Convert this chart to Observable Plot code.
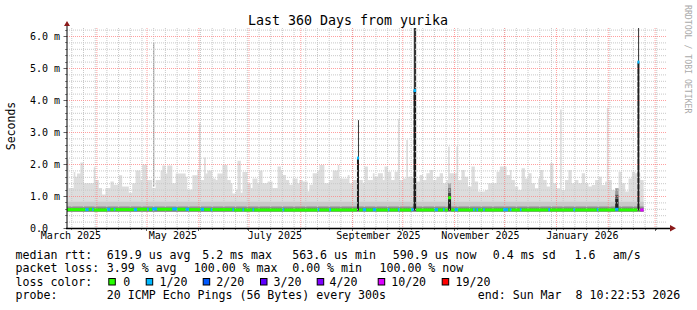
<!DOCTYPE html>
<html><head><meta charset="utf-8">
<script src="https://cdn.jsdelivr.net/npm/d3@7"></script>
<script src="https://cdn.jsdelivr.net/npm/@observablehq/plot@0.6"></script>
<style>
html,body{margin:0;padding:0;background:#fff;}
#chart{width:697px;height:310px;position:relative;overflow:hidden;}
svg text{white-space:pre;}
</style></head><body><div id="chart"></div>
<script>
// ---------- time frame ----------
const startTime = new Date(2025, 2, 14, 10, 22, 53);
const endTime = new Date(2026, 2, 8, 10, 22, 53);
const DAY = 864e5;
const at = d => new Date(startTime.getTime() + d * DAY);

// ---------- smoke envelope (max ping, ms), day offsets from start ----------
const smokeDay = [0,1,4,5,6,8,10,16,17,19,21,23,26,28,31,33,37,39,41,44,45,48,51,53,56,57,59,60,63,65,71,72,75,78,79,80,82,83,84,87,89,90,93,96,98,99,101,102,104,105,108,110,111,114,115,117,120,123,126,128,129,131,133,135,138,139,141,144,145,147,150,151,154,157,159,162,163,168,169,171,177,178,180,183,184,186,189,190,192,194,196,198,199,201,203,204,209,211,213,215,217,219,221,223,225,227,228,229,233,234,236,238,240,242,244,246,250,252,257,259,263,265,266,268,270,272,274,276,278,280,282,283,285,287,289,291,293,295,296,298,300,302,304,306,308,310,312,314,316,318,320,322,323,324,326,328,330,332,334,336,338,340,343,345];
const smokeMax = [2.15,1.25,1.75,1.6,1.7,2.05,1.4,1.9,1.5,1.25,1.05,1.25,1.45,1.35,1.65,1.3,1.1,1.4,1.8,1.5,1.98,1.5,1.25,1.5,1.8,1.95,1.7,1.95,1.4,1.7,1.6,1.2,1.65,1.82,3.27,1.5,2.2,1.7,1.8,1.55,1.5,1.7,1.97,1.5,1.4,1.08,1.2,2.1,1.1,1.75,1.4,1.25,1.55,1.4,1.8,1.4,1.45,1.25,1.92,1.8,1.66,1.5,1.35,1.55,1.4,1.5,1.45,1.15,1.35,1.71,1.8,1.97,1.4,1.5,1.8,1.97,1.55,1.66,1.4,1.5,1.4,1.92,1.5,1.71,1.6,1.71,1.5,1.92,1.76,1.5,1.76,3.4,1.5,1.55,2.75,1.6,1.45,1.66,1.5,1.71,1.81,1.5,1.6,1.71,1.4,1.5,2.55,1.71,2.55,1.5,1.81,1.6,1.3,1.92,1.45,1.14,1.19,1.4,1.76,1.92,1.66,1.81,1.5,1.3,1.19,1.87,1.55,1.71,1.4,1.24,1.55,1.81,1.5,1.3,2.02,1.4,1.24,3.7,1.19,1.5,1.81,1.4,1.5,1.4,1.71,1.4,1.3,1.34,1.5,1.6,1.34,1.45,3.75,1.5,1.19,1.24,1.76,1.4,1.14,1.55,1.76,1.71,1.5,1.5];
const smokeFloor = 0.5;

// inner (denser) smoke bands around the median, ms
const bandLo = [0.50, 0.50, 0.52];
const bandHi = [0.82, 0.68, 0.64];
const bandShade = ["#c9c9c9", "#a2a2a2", "#7c7c7c"];

// outlier days with dense / tall smoke
const spikeFrom = [51.6, 173.5, 174.1, 207.3, 207.5, 228.0, 228.0, 228.0, 228.0, 328.0, 328.0, 328.0, 341.3, 341.7];
const spikeTo   = [52.2, 174.7, 174.7, 208.9, 208.9, 229.8, 229.8, 229.8, 229.8, 330.0, 330.0, 330.0, 342.5, 342.3];
const spikeLo   = [1.3, 0.55, 2.2, 0.55, 4.3, 0.55, 0.95, 1.1, 1.25, 0.55, 0.92, 1.05, 0.55, 5.2];
const spikeHi   = [5.8, 2.2, 3.37, 4.3, 6.25, 0.95, 1.1, 1.25, 1.4, 0.92, 1.05, 1.24, 5.2, 6.25];
const spikeShade = ["#8a8a8a", "#1c1c1c", "#3a3a3a", "#1c1c1c", "#343434", "#222222", "#444444", "#777777", "#aaaaaa", "#222222", "#555555", "#999999", "#1c1c1c", "#343434"];

// median rtt runs (ms) with loss class index
const medianStart = [0,11,13,15,16,24,26,28,29,40,42,48,49,51,54,63,66,71,73,80,82,86,87,99,100,105,106,111,112,129,130,150,151,157,158,173.5,174.7,177,179,183,185,192,193,198,199,206,207.3,208.9,220,222,225,226,228,229.8,232,234,243,244,245,246,249,250,261,264,265,266,271,272,288,289,303,304,317,318,328,330,341.3,342.5,343];
const medianValue = [0.59,0.59,0.60,0.59,0.58,0.60,0.59,0.60,0.59,0.59,0.60,0.60,0.59,0.61,0.60,0.61,0.60,0.60,0.59,0.60,0.59,0.59,0.59,0.59,0.58,0.59,0.58,0.59,0.58,0.59,0.58,0.59,0.58,0.59,0.58,2.2,0.58,0.59,0.58,0.59,0.58,0.59,0.58,0.59,0.58,0.59,4.31,0.58,0.59,0.58,0.59,0.58,0.96,0.58,0.59,0.58,0.59,0.58,0.59,0.58,0.59,0.58,0.59,0.58,0.59,0.58,0.59,0.58,0.59,0.58,0.59,0.58,0.59,0.58,0.60,0.58,5.2,0.58,0.58];
const medianLoss = [0,1,0,1,0,1,0,1,0,1,0,1,0,1,0,1,0,1,0,1,0,1,0,1,0,1,0,1,0,1,0,1,0,1,0,1,0,1,0,1,0,1,0,1,0,1,1,0,1,0,1,0,0,0,1,0,1,0,1,0,1,0,1,0,1,0,1,0,1,0,1,0,1,0,1,0,1,0,5];
const medianEnd = 345;

// legend / loss palette
const lossLabels = ["0", "1/20", "2/20", "3/20", "4/20", "10/20", "19/20"];
const lossColors = ["#26ff00", "#00b8ff", "#0059ff", "#5e00ff", "#7e00ff", "#dd00ff", "#ff0000"];
const statLabels = ["median rtt:", "packet loss:", "loss color:", "probe:"];
const rttStats = ["619.9 us avg", "5.2 ms max", "563.6 us min", "590.9 us now", "0.4 ms sd", "1.6", "am/s"];
const lossStats = ["3.99 % avg", "100.00 % max", "0.00 % min", "100.00 % now"];
const probeText = "20 ICMP Echo Pings (56 Bytes) every 300s";
const endText = "end: Sun Mar  8 10:22:53 2026";
const titleText = "Last 360 Days from yurika";
const yTitle = "Seconds";
const watermark = "RRDTOOL / TOBI OETIKER";

// axis ticks
const yMajor = [0, 1, 2, 3, 4, 5, 6];
const yMinor = [0.2,0.4,0.6,0.8,1.2,1.4,1.6,1.8,2.2,2.4,2.6,2.8,3.2,3.4,3.6,3.8,4.2,4.4,4.6,4.8,5.2,5.4,5.6,5.8,6.2];
const monthLabels = ["March 2025", "May 2025", "July 2025", "September 2025", "November 2025", "January 2026"];
const monthLabelDates = [new Date(2025,2,16,12), new Date(2025,4,16,12), new Date(2025,6,16,12), new Date(2025,8,16,12), new Date(2025,10,16,12), new Date(2026,0,16,12)];

// ---------- build tables ----------
const smoke = smokeDay.map((d, i) => ({date: at(d), max: smokeMax[i]}));
const bands = bandLo.map((lo, i) => ({from: at(smokeDay[0]), to: at(smokeDay[smokeDay.length - 1]), lo, hi: bandHi[i], shade: bandShade[i]}));
const spikes = spikeFrom.map((f, i) => ({from: at(f), to: at(spikeTo[i]), lo: spikeLo[i], hi: spikeHi[i], shade: spikeShade[i]}));
const median = medianStart.map((d, i) => ({from: at(d), to: at(i + 1 < medianStart.length ? medianStart[i + 1] : medianEnd), value: medianValue[i], color: lossColors[medianLoss[i]]}));
const weekTicks = d3.timeMonday.range(startTime, endTime);
const monthStarts = d3.timeMonth.range(startTime, endTime);

const MONO = "'DejaVu Sans Mono', monospace";

const plot = Plot.plot({
  width: 697, height: 310,
  marginLeft: 67, marginRight: 30, marginTop: 28, marginBottom: 82,
  x: {type: "time", domain: [startTime, endTime], axis: null},
  y: {domain: [0, 6.25], axis: null},
  color: {type: "identity"},
  style: {fontFamily: MONO, fontSize: "10px", background: "#fff", color: "#000", overflow: "visible"},
  marks: [
    Plot.areaY(smoke, {x: "date", y1: () => smokeFloor, y2: "max", curve: "step-after", fill: "#dddddd"}),
    Plot.rect(bands, {x1: "from", x2: "to", y1: "lo", y2: "hi", fill: "shade"}),
    Plot.rect(spikes, {x1: "from", x2: "to", y1: "lo", y2: "hi", fill: "shade"}),
    Plot.ruleY(yMinor, {stroke: "#c8c8c8", strokeDasharray: "1,1"}),
    Plot.ruleX(weekTicks, {stroke: "#c8c8c8", strokeDasharray: "1,1"}),
    Plot.ruleY(yMajor.filter(v => v > 0), {stroke: "#ff8080", strokeOpacity: 0.75, strokeDasharray: "1,1"}),
    Plot.ruleX(monthStarts, {stroke: "#ff8080", strokeOpacity: 0.75, strokeDasharray: "1,1"}),
    Plot.ruleY(median, {y: "value", x1: "from", x2: "to", stroke: "color", strokeWidth: 3}),
    Plot.text(yMajor, {y: d => d, frameAnchor: "left", dx: -37.5, textAnchor: "start", text: d => d === 0 ? "0.0" : d.toFixed(1) + " m", fontSize: 10}),
    Plot.text(monthLabelDates, {x: d => d, frameAnchor: "bottom", dy: 10, text: (d, i) => monthLabels[i], fontSize: 10})
  ]
});
document.getElementById("chart").appendChild(plot);

// ---------- frame decorations ----------
const svg = d3.select(plot);
const X = v => plot.scale("x").apply(v);
const Y = v => plot.scale("y").apply(v);
const x0 = X(startTime), x1 = X(endTime), y0 = Y(0), yTop = Y(6.25);
const deco = svg.append("g");
// tick marks
yMinor.forEach(v => deco.append("line").attr("x1", x0 - 2).attr("x2", x0).attr("y1", Math.round(Y(v)) + 0.5).attr("y2", Math.round(Y(v)) + 0.5).attr("stroke", "#888"));
yMajor.forEach(v => deco.append("line").attr("x1", x0 - 3.5).attr("x2", x0).attr("y1", Math.round(Y(v)) + 0.5).attr("y2", Math.round(Y(v)) + 0.5).attr("stroke", "#666"));
weekTicks.forEach(t => deco.append("line").attr("x1", Math.round(X(t)) + 0.5).attr("x2", Math.round(X(t)) + 0.5).attr("y1", y0).attr("y2", y0 + 2).attr("stroke", "#888"));
monthStarts.forEach(t => deco.append("line").attr("x1", Math.round(X(t)) + 0.5).attr("x2", Math.round(X(t)) + 0.5).attr("y1", y0).attr("y2", y0 + 3).attr("stroke", "#666"));
// axis lines with arrows
deco.append("line").attr("x1", x0).attr("x2", x0).attr("y1", y0).attr("y2", yTop - 3).attr("stroke", "#000");
deco.append("line").attr("x1", x0 - 1).attr("x2", x1 + 4).attr("y1", y0 + 0.5).attr("y2", y0 + 0.5).attr("stroke", "#000").attr("stroke-width", 1.5);
deco.append("path").attr("d", `M${x0 - 3},${yTop - 2}L${x0 + 3},${yTop - 2}L${x0},${yTop - 7}Z`).attr("fill", "#8b1a1a");
deco.append("path").attr("d", `M${x1 + 3},${y0 - 3}L${x1 + 3},${y0 + 3.5}L${x1 + 9},${y0 + 0.25}Z`).attr("fill", "#8b1a1a");

// ---------- texts ----------
const T = svg.append("g").attr("font-family", MONO).attr("fill", "#000").attr("text-anchor", "start");
T.append("text").attr("x", 348).attr("y", 24.5).attr("text-anchor", "middle").attr("font-size", "13.3px").text(titleText);
T.append("text").attr("transform", "translate(15,126) rotate(-90)").attr("text-anchor", "middle").attr("font-size", "11.5px").text(yTitle);
T.append("text").attr("transform", "translate(685,5) rotate(90)").attr("font-size", "8.2px").attr("fill", "#aaaaaa").text(watermark);

const fs = "11.6px";
const rows = [258.5, 272, 285.5, 299];
statLabels.forEach((s, i) => T.append("text").attr("x", 15.5).attr("y", rows[i]).attr("font-size", fs).text(s));
const rttX = [106.8, 202.2, 292.2, 392.8, 492.8, 574.5, 612.8];
rttStats.forEach((s, i) => T.append("text").attr("x", rttX[i]).attr("y", rows[0]).attr("font-size", fs).text(s));
const lossX = [106.8, 193.8, 292.2, 379.5];
lossStats.forEach((s, i) => T.append("text").attr("x", lossX[i]).attr("y", rows[1]).attr("font-size", fs).text(s));
const boxX = [108.3, 145.7, 202.7, 260, 316.7, 377.7, 441.7];
const boxLabelX = [123.2, 159.5, 216.2, 273.5, 329.5, 391.2, 455.5];
lossLabels.forEach((s, i) => {
  T.append("rect").attr("x", boxX[i] + 0.5).attr("y", 278.5).attr("width", 6.5).attr("height", 6.5).attr("fill", lossColors[i]).attr("stroke", "#000").attr("stroke-width", 1);
  T.append("text").attr("x", boxLabelX[i]).attr("y", rows[2]).attr("font-size", fs).text(s);
});
T.append("text").attr("x", 106.8).attr("y", rows[3]).attr("font-size", fs).text(probeText);
T.append("text").attr("x", 477.8).attr("y", rows[3]).attr("font-size", fs).text(endText);
</script>
</body></html>
